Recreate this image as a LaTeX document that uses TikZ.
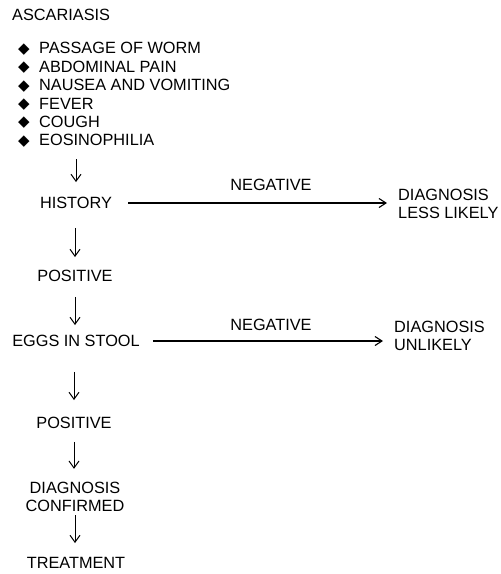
\documentclass[tikz,border=0pt]{standalone}
\usepackage{fontspec}
\setmainfont{Liberation Sans}
\newfontfamily\symfont{DejaVu Sans}
\usetikzlibrary{arrows.meta,positioning}
\newcommand{\dmd}{\makebox[21pt][l]{\raisebox{0.5pt}{\symfont\fontsize{15}{15}\selectfont ◆}}}

\begin{document}
\begin{tikzpicture}[
    x=1pt, y=-1pt,
    txt/.style={inner sep=0pt, font=\fontsize{16.3}{18.4}\selectfont, text height=11.5pt, text depth=0pt},
    two/.style={inner sep=0pt, font=\fontsize{16.3}{18.4}\selectfont, align=center},
    flow/.style={-{Straight Barb[length=7pt,width=10pt,line width=1pt]}, line width=1pt},
    side/.style={-{Straight Barb[length=7pt,width=9pt,line width=1.1pt]}, line width=1.2pt}
  ]
    \useasboundingbox (0,0) rectangle (501,574);
    \node[txt, anchor=west] (title) at (12,15) {ASCARIASIS};
    \node[two, align=left, anchor=north west] (signs) at (18,42.3)
      {\dmd PASSAGE OF WORM\\\dmd ABDOMINAL PAIN\\\dmd NAUSEA AND VOMITING\\\dmd FEVER\\\dmd COUGH\\\dmd EOSINOPHILIA};
    \node[txt] (hist) at (76,203) {HISTORY};
    \node[txt] (pos1) at (75,276) {POSITIVE};
    \node[txt] (eggs) at (76,341) {EGGS IN STOOL};
    \node[txt] (pos2) at (74,423) {POSITIVE};
    \node[two] (conf) at (75,497) {DIAGNOSIS\\CONFIRMED};
    \node[txt] (treat) at (76,563) {TREATMENT};
    \node[two, align=left, anchor=west] (less) at (398,204) {DIAGNOSIS\\LESS LIKELY};
    \node[two, align=left, anchor=west] (unl) at (394,336) {DIAGNOSIS\\UNLIKELY};
    \node[txt] (neg1) at (271,185) {NEGATIVE};
    \node[txt] (neg2) at (271,325) {NEGATIVE};
    \draw[flow, shorten <=12pt, shorten >=15pt] (signs.south -| hist.north) -- (hist.north);
    \draw[flow, shorten <=19pt, shorten >=13pt] (hist.south -| pos1) -- (pos1.north);
    \draw[flow, shorten <=15pt, shorten >=10pt] (pos1.south) -- (pos1.south |- eggs.north);
    \draw[flow, shorten <=25pt, shorten >=17pt] (eggs.south -| pos2) -- (pos2.north);
    \draw[flow, shorten <=13pt, shorten >=13pt] (pos2.south) -- (pos2.south |- conf.north);
    \draw[flow, shorten <=3pt, shorten >=14pt] (conf.south) -- (conf.south |- treat.north);
    \draw[side, shorten <=16pt, shorten >=11pt] (hist.east) -- (hist -| less.west);
    \draw[side, shorten <=13pt, shorten >=11pt] (eggs.east) -- (eggs -| unl.west);
\end{tikzpicture}
\end{document}
